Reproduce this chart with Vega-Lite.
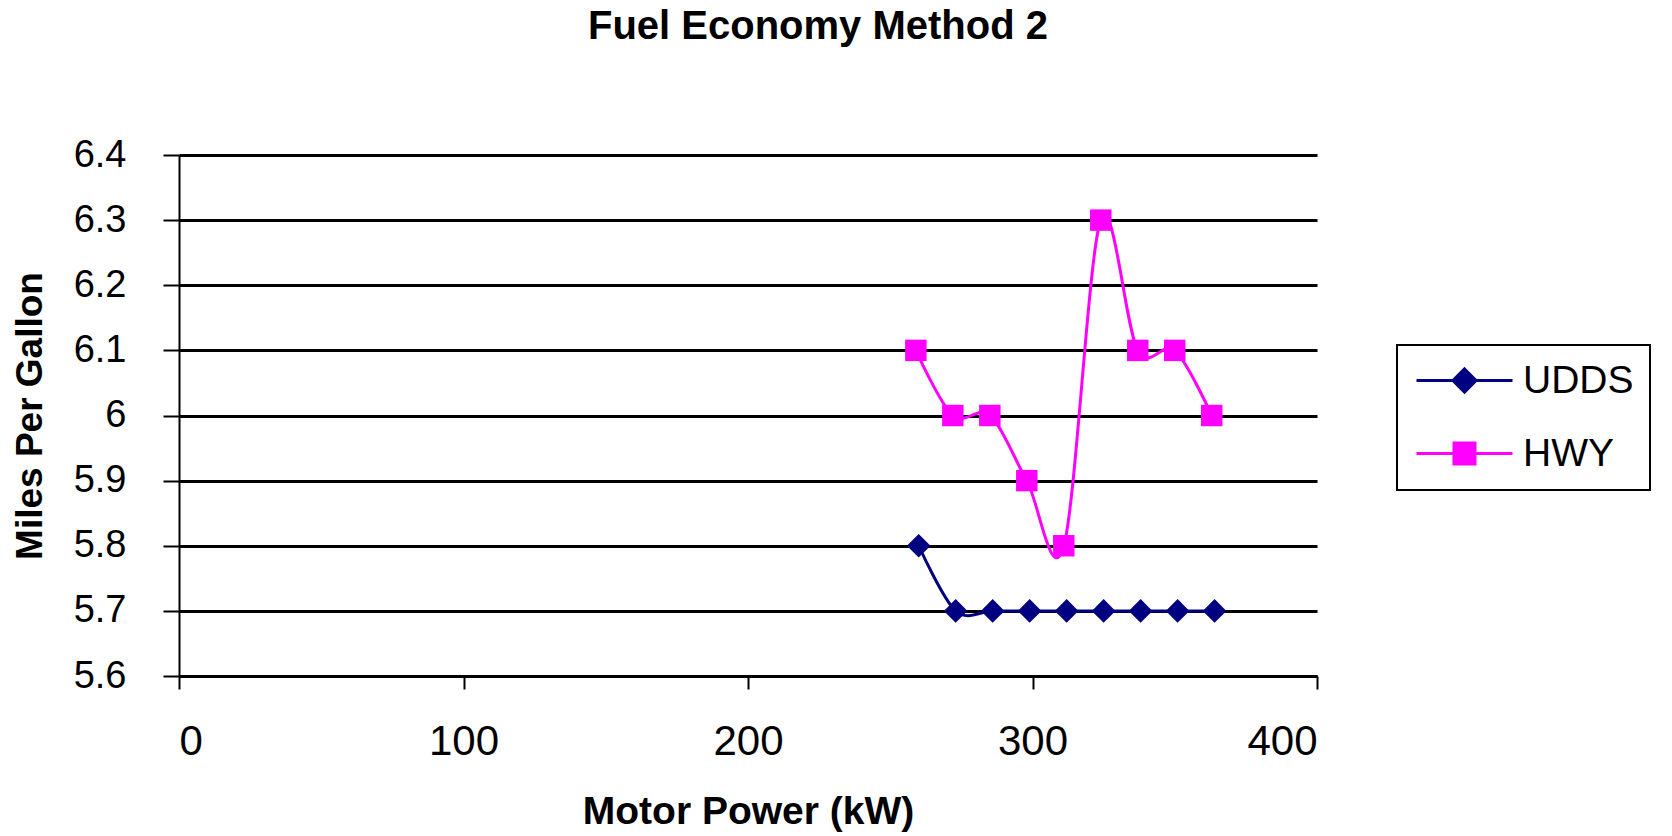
{
  "$schema": "https://vega.github.io/schema/vega-lite/v6.json",
  "width": 1138,
  "height": 521,
  "autosize": {"type": "none"},
  "padding": {"left": 179, "top": 155, "right": 355, "bottom": 160},
  "background": "white",
  "title": {
    "text": "Fuel Economy Method 2",
    "font": "Liberation Sans",
    "fontSize": 40,
    "fontWeight": "bold",
    "color": "black",
    "anchor": "middle",
    "dx": 70,
    "offset": 89
  },
  "config": {
    "view": {"stroke": null},
    "axis": {
      "labelFont": "Liberation Sans",
      "labelColor": "black",
      "titleFont": "Liberation Sans",
      "titleColor": "black",
      "titleFontWeight": "bold",
      "domainColor": "black",
      "tickColor": "black",
      "gridColor": "black",
      "gridOpacity": 1
    }
  },
  "data": {
    "values": [
      {"series": "UDDS", "power": 260, "mpg": 5.8},
      {"series": "UDDS", "power": 273, "mpg": 5.7},
      {"series": "UDDS", "power": 286, "mpg": 5.7},
      {"series": "UDDS", "power": 299, "mpg": 5.7},
      {"series": "UDDS", "power": 312, "mpg": 5.7},
      {"series": "UDDS", "power": 325, "mpg": 5.7},
      {"series": "UDDS", "power": 338, "mpg": 5.7},
      {"series": "UDDS", "power": 351, "mpg": 5.7},
      {"series": "UDDS", "power": 364, "mpg": 5.7},
      {"series": "HWY", "power": 259, "mpg": 6.1},
      {"series": "HWY", "power": 272, "mpg": 6.0},
      {"series": "HWY", "power": 285, "mpg": 6.0},
      {"series": "HWY", "power": 298, "mpg": 5.9},
      {"series": "HWY", "power": 311, "mpg": 5.8},
      {"series": "HWY", "power": 324, "mpg": 6.3},
      {"series": "HWY", "power": 337, "mpg": 6.1},
      {"series": "HWY", "power": 350, "mpg": 6.1},
      {"series": "HWY", "power": 363, "mpg": 6.0}
    ]
  },
  "encoding": {
    "x": {
      "field": "power",
      "type": "quantitative",
      "title": "Motor Power (kW)",
      "scale": {"domain": [0, 400], "nice": false, "zero": true},
      "axis": {
        "values": [0, 100, 200, 300, 400],
        "grid": false,
        "domainWidth": 3,
        "tickSize": 13,
        "tickWidth": 2,
        "labelFontSize": 42,
        "labelPadding": 32,
        "titleFontSize": 39,
        "titlePadding": 30
      }
    },
    "y": {
      "field": "mpg",
      "type": "quantitative",
      "title": "Miles Per Gallon",
      "scale": {"domain": [5.6, 6.4], "nice": false, "zero": false},
      "axis": {
        "values": [5.6, 5.7, 5.8, 5.9, 6, 6.1, 6.2, 6.3, 6.4],
        "format": "~g",
        "grid": true,
        "gridWidth": 3,
        "domainWidth": 2,
        "tickSize": 16,
        "tickWidth": 2,
        "labelFontSize": 38,
        "labelPadding": 37,
        "titleFontSize": 37,
        "titlePadding": 24
      }
    },
    "color": {
      "field": "series",
      "type": "nominal",
      "scale": {"domain": ["UDDS", "HWY"], "range": ["#000080", "#FF00FF"]},
      "legend": {
        "title": null,
        "orient": "none",
        "legendX": 1218,
        "legendY": 190,
        "padding": 16,
        "strokeColor": "black",
        "symbolSize": 576,
        "symbolStrokeWidth": 3,
        "symbolOpacity": 1,
        "symbolOffset": 32,
        "labelFont": "Liberation Sans",
        "labelFontSize": 39,
        "labelColor": "black",
        "labelOffset": 39,
        "rowPadding": 33,
        "encode": {
          "legend": {"update": {"strokeWidth": {"value": 2}}},
          "symbols": {
            "update": {
              "shape": {"signal": "datum.value === 'UDDS' ? 'M-4,0L4,0M0,-0.96L0.96,0L0,0.96L-0.96,0Z' : 'M-4,0L4,0M-0.875,-0.875L0.875,-0.875L0.875,0.875L-0.875,0.875Z'"},
              "strokeWidth": {"value": 3}
            }
          }
        }
      }
    }
  },
  "layer": [
    {
      "mark": {"type": "line", "interpolate": "cardinal", "strokeWidth": 3}
    },
    {
      "transform": [{"filter": "datum.series === 'UDDS'"}],
      "mark": {"type": "point", "shape": "diamond", "filled": true, "opacity": 1, "size": 560}
    },
    {
      "transform": [{"filter": "datum.series === 'HWY'"}],
      "mark": {"type": "point", "shape": "square", "filled": true, "opacity": 1, "size": 460}
    }
  ]
}
